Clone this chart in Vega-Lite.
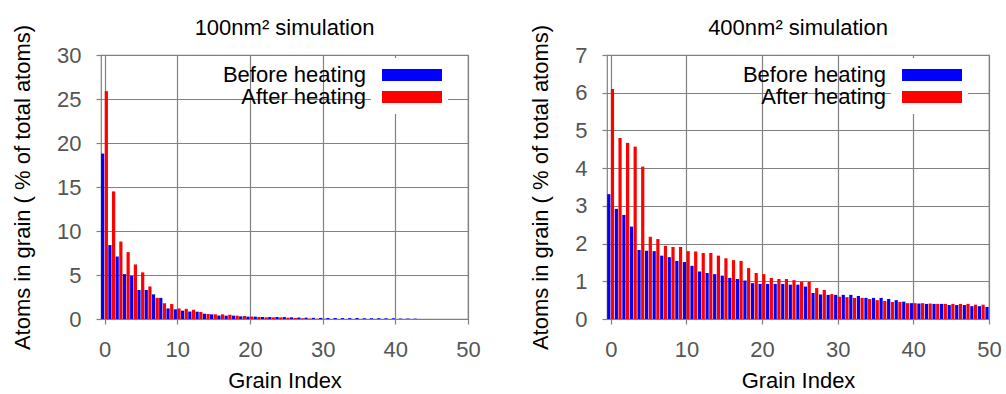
{
  "$schema": "https://vega.github.io/schema/vega-lite/v6.json",
  "padding": {"left": 10, "top": 16, "right": 5, "bottom": 0},
  "config": {
    "font": "Liberation Sans",
    "view": {"stroke": "#808080", "strokeWidth": 1.2},
    "axis": {
      "labelFont": "Liberation Sans", "labelFontSize": 22, "labelColor": "#555555",
      "titleFont": "Liberation Sans", "titleFontSize": 22, "titleFontWeight": "normal", "titleColor": "#000000",
      "gridColor": "#808080", "gridOpacity": 1, "gridWidth": 1.2,
      "domain": false, "tickColor": "#808080", "tickSize": 5, "tickWidth": 1.2
    },
    "axisX": {"labelPadding": 15, "titlePadding": 10, "labelFlush": false},
    "axisY": {"labelPadding": 15, "titlePadding": 22},
    "title": {"font": "Liberation Sans", "fontSize": 22, "fontWeight": "normal", "color": "#000000", "baseline": "alphabetic", "offset": -16},
    "legend": {
      "orient": "none", "title": null,
      "symbolType": "M-5,-1L5,-1L5,1L-5,1Z", "symbolSize": 144, "symbolOffset": 24, "symbolStrokeWidth": 0, "symbolOpacity": 1,
      "labelFont": "Liberation Sans", "labelFontSize": 22, "labelColor": "#000000",
      "labelAlign": "right", "labelOffset": -57, "labelLimit": 300,
      "rowPadding": -2, "padding": 6, "fillColor": "#ffffff", "strokeColor": null
    }
  },
  "datasets": {
    "p100": [
      {"grain": 0, "state": "Before heating", "pct": 18.8}, {"grain": 0, "state": "After heating", "pct": 25.9},
      {"grain": 1, "state": "Before heating", "pct": 8.4}, {"grain": 1, "state": "After heating", "pct": 14.5},
      {"grain": 2, "state": "Before heating", "pct": 7.1}, {"grain": 2, "state": "After heating", "pct": 8.8},
      {"grain": 3, "state": "Before heating", "pct": 5.1}, {"grain": 3, "state": "After heating", "pct": 7.6},
      {"grain": 4, "state": "Before heating", "pct": 4.9}, {"grain": 4, "state": "After heating", "pct": 6.2},
      {"grain": 5, "state": "Before heating", "pct": 3.3}, {"grain": 5, "state": "After heating", "pct": 5.3},
      {"grain": 6, "state": "Before heating", "pct": 3.3}, {"grain": 6, "state": "After heating", "pct": 3.7},
      {"grain": 7, "state": "Before heating", "pct": 2.8}, {"grain": 7, "state": "After heating", "pct": 2.4},
      {"grain": 8, "state": "Before heating", "pct": 2.4}, {"grain": 8, "state": "After heating", "pct": 1.8},
      {"grain": 9, "state": "Before heating", "pct": 1.2}, {"grain": 9, "state": "After heating", "pct": 1.7},
      {"grain": 10, "state": "Before heating", "pct": 1.1}, {"grain": 10, "state": "After heating", "pct": 1.2},
      {"grain": 11, "state": "Before heating", "pct": 0.95}, {"grain": 11, "state": "After heating", "pct": 1.15},
      {"grain": 12, "state": "Before heating", "pct": 0.85}, {"grain": 12, "state": "After heating", "pct": 1.05},
      {"grain": 13, "state": "Before heating", "pct": 0.83}, {"grain": 13, "state": "After heating", "pct": 0.8},
      {"grain": 14, "state": "Before heating", "pct": 0.6}, {"grain": 14, "state": "After heating", "pct": 0.57},
      {"grain": 15, "state": "Before heating", "pct": 0.53}, {"grain": 15, "state": "After heating", "pct": 0.53},
      {"grain": 16, "state": "Before heating", "pct": 0.4}, {"grain": 16, "state": "After heating", "pct": 0.53},
      {"grain": 17, "state": "Before heating", "pct": 0.38}, {"grain": 17, "state": "After heating", "pct": 0.49},
      {"grain": 18, "state": "Before heating", "pct": 0.38}, {"grain": 18, "state": "After heating", "pct": 0.38},
      {"grain": 19, "state": "Before heating", "pct": 0.3}, {"grain": 19, "state": "After heating", "pct": 0.34},
      {"grain": 20, "state": "Before heating", "pct": 0.27}, {"grain": 20, "state": "After heating", "pct": 0.27},
      {"grain": 21, "state": "Before heating", "pct": 0.27}, {"grain": 21, "state": "After heating", "pct": 0.23},
      {"grain": 22, "state": "Before heating", "pct": 0.23}, {"grain": 22, "state": "After heating", "pct": 0.19},
      {"grain": 23, "state": "Before heating", "pct": 0.23}, {"grain": 23, "state": "After heating", "pct": 0.19},
      {"grain": 24, "state": "Before heating", "pct": 0.23}, {"grain": 24, "state": "After heating", "pct": 0.19},
      {"grain": 25, "state": "Before heating", "pct": 0.22}, {"grain": 25, "state": "After heating", "pct": 0.15},
      {"grain": 26, "state": "Before heating", "pct": 0.19}, {"grain": 26, "state": "After heating", "pct": 0.12},
      {"grain": 27, "state": "Before heating", "pct": 0.17}, {"grain": 27, "state": "After heating", "pct": 0.08},
      {"grain": 28, "state": "Before heating", "pct": 0.15}, {"grain": 28, "state": "After heating", "pct": 0.05},
      {"grain": 29, "state": "Before heating", "pct": 0.13}, {"grain": 29, "state": "After heating", "pct": 0.03},
      {"grain": 30, "state": "Before heating", "pct": 0.12}, {"grain": 30, "state": "After heating", "pct": 0.02},
      {"grain": 31, "state": "Before heating", "pct": 0.11},
      {"grain": 32, "state": "Before heating", "pct": 0.11},
      {"grain": 33, "state": "Before heating", "pct": 0.1},
      {"grain": 34, "state": "Before heating", "pct": 0.1},
      {"grain": 35, "state": "Before heating", "pct": 0.1},
      {"grain": 36, "state": "Before heating", "pct": 0.09},
      {"grain": 37, "state": "Before heating", "pct": 0.09},
      {"grain": 38, "state": "Before heating", "pct": 0.09},
      {"grain": 39, "state": "Before heating", "pct": 0.08},
      {"grain": 40, "state": "Before heating", "pct": 0.08},
      {"grain": 41, "state": "Before heating", "pct": 0.05},
      {"grain": 42, "state": "Before heating", "pct": 0.05},
      {"grain": 43, "state": "Before heating", "pct": 0.04}
    ],
    "p400": [
      {"grain": 0, "state": "Before heating", "pct": 3.31}, {"grain": 0, "state": "After heating", "pct": 6.1},
      {"grain": 1, "state": "Before heating", "pct": 2.92}, {"grain": 1, "state": "After heating", "pct": 4.8},
      {"grain": 2, "state": "Before heating", "pct": 2.76}, {"grain": 2, "state": "After heating", "pct": 4.67},
      {"grain": 3, "state": "Before heating", "pct": 2.45}, {"grain": 3, "state": "After heating", "pct": 4.57},
      {"grain": 4, "state": "Before heating", "pct": 1.83}, {"grain": 4, "state": "After heating", "pct": 4.04},
      {"grain": 5, "state": "Before heating", "pct": 1.81}, {"grain": 5, "state": "After heating", "pct": 2.18},
      {"grain": 6, "state": "Before heating", "pct": 1.8}, {"grain": 6, "state": "After heating", "pct": 2.12},
      {"grain": 7, "state": "Before heating", "pct": 1.68}, {"grain": 7, "state": "After heating", "pct": 1.94},
      {"grain": 8, "state": "Before heating", "pct": 1.64}, {"grain": 8, "state": "After heating", "pct": 1.91},
      {"grain": 9, "state": "Before heating", "pct": 1.54}, {"grain": 9, "state": "After heating", "pct": 1.91},
      {"grain": 10, "state": "Before heating", "pct": 1.51}, {"grain": 10, "state": "After heating", "pct": 1.8},
      {"grain": 11, "state": "Before heating", "pct": 1.41}, {"grain": 11, "state": "After heating", "pct": 1.79},
      {"grain": 12, "state": "Before heating", "pct": 1.26}, {"grain": 12, "state": "After heating", "pct": 1.75},
      {"grain": 13, "state": "Before heating", "pct": 1.22}, {"grain": 13, "state": "After heating", "pct": 1.75},
      {"grain": 14, "state": "Before heating", "pct": 1.19}, {"grain": 14, "state": "After heating", "pct": 1.68},
      {"grain": 15, "state": "Before heating", "pct": 1.15}, {"grain": 15, "state": "After heating", "pct": 1.61},
      {"grain": 16, "state": "Before heating", "pct": 1.09}, {"grain": 16, "state": "After heating", "pct": 1.56},
      {"grain": 17, "state": "Before heating", "pct": 1.06}, {"grain": 17, "state": "After heating", "pct": 1.54},
      {"grain": 18, "state": "Before heating", "pct": 1.02}, {"grain": 18, "state": "After heating", "pct": 1.35},
      {"grain": 19, "state": "Before heating", "pct": 0.95}, {"grain": 19, "state": "After heating", "pct": 1.22},
      {"grain": 20, "state": "Before heating", "pct": 0.93}, {"grain": 20, "state": "After heating", "pct": 1.19},
      {"grain": 21, "state": "Before heating", "pct": 0.93}, {"grain": 21, "state": "After heating", "pct": 1.09},
      {"grain": 22, "state": "Before heating", "pct": 0.93}, {"grain": 22, "state": "After heating", "pct": 1.06},
      {"grain": 23, "state": "Before heating", "pct": 0.93}, {"grain": 23, "state": "After heating", "pct": 1.06},
      {"grain": 24, "state": "Before heating", "pct": 0.91}, {"grain": 24, "state": "After heating", "pct": 1.03},
      {"grain": 25, "state": "Before heating", "pct": 0.91}, {"grain": 25, "state": "After heating", "pct": 0.99},
      {"grain": 26, "state": "Before heating", "pct": 0.86}, {"grain": 26, "state": "After heating", "pct": 0.99},
      {"grain": 27, "state": "Before heating", "pct": 0.69}, {"grain": 27, "state": "After heating", "pct": 0.82},
      {"grain": 28, "state": "Before heating", "pct": 0.65}, {"grain": 28, "state": "After heating", "pct": 0.77},
      {"grain": 29, "state": "Before heating", "pct": 0.64}, {"grain": 29, "state": "After heating", "pct": 0.66},
      {"grain": 30, "state": "Before heating", "pct": 0.64}, {"grain": 30, "state": "After heating", "pct": 0.59},
      {"grain": 31, "state": "Before heating", "pct": 0.64}, {"grain": 31, "state": "After heating", "pct": 0.58},
      {"grain": 32, "state": "Before heating", "pct": 0.64}, {"grain": 32, "state": "After heating", "pct": 0.56},
      {"grain": 33, "state": "Before heating", "pct": 0.61}, {"grain": 33, "state": "After heating", "pct": 0.56},
      {"grain": 34, "state": "Before heating", "pct": 0.56}, {"grain": 34, "state": "After heating", "pct": 0.53},
      {"grain": 35, "state": "Before heating", "pct": 0.56}, {"grain": 35, "state": "After heating", "pct": 0.5},
      {"grain": 36, "state": "Before heating", "pct": 0.56}, {"grain": 36, "state": "After heating", "pct": 0.48},
      {"grain": 37, "state": "Before heating", "pct": 0.53}, {"grain": 37, "state": "After heating", "pct": 0.45},
      {"grain": 38, "state": "Before heating", "pct": 0.5}, {"grain": 38, "state": "After heating", "pct": 0.45},
      {"grain": 39, "state": "Before heating", "pct": 0.46}, {"grain": 39, "state": "After heating", "pct": 0.42},
      {"grain": 40, "state": "Before heating", "pct": 0.42}, {"grain": 40, "state": "After heating", "pct": 0.42},
      {"grain": 41, "state": "Before heating", "pct": 0.41}, {"grain": 41, "state": "After heating", "pct": 0.42},
      {"grain": 42, "state": "Before heating", "pct": 0.4}, {"grain": 42, "state": "After heating", "pct": 0.41},
      {"grain": 43, "state": "Before heating", "pct": 0.4}, {"grain": 43, "state": "After heating", "pct": 0.4},
      {"grain": 44, "state": "Before heating", "pct": 0.4}, {"grain": 44, "state": "After heating", "pct": 0.4},
      {"grain": 45, "state": "Before heating", "pct": 0.37}, {"grain": 45, "state": "After heating", "pct": 0.4},
      {"grain": 46, "state": "Before heating", "pct": 0.37}, {"grain": 46, "state": "After heating", "pct": 0.4},
      {"grain": 47, "state": "Before heating", "pct": 0.37}, {"grain": 47, "state": "After heating", "pct": 0.4},
      {"grain": 48, "state": "Before heating", "pct": 0.34}, {"grain": 48, "state": "After heating", "pct": 0.38},
      {"grain": 49, "state": "Before heating", "pct": 0.34}, {"grain": 49, "state": "After heating", "pct": 0.38},
      {"grain": 50, "state": "Before heating", "pct": 0.32}
    ]
  },
  "hconcat": [
    {
      "width": 367, "height": 264,
      "title": {"text": "100nm² simulation"},
      "data": {"name": "p100"},
      "encoding": {
        "x": {"field": "grain", "type": "quantitative", "title": "Grain Index",
              "scale": {"domain": [-0.5, 50], "nice": false, "zero": false, "padding": 0},
              "axis": {"values": [0, 10, 20, 30, 40, 50], "grid": true}},
        "y": {"field": "pct", "type": "quantitative", "title": "Atoms in grain ( % of total atoms)",
              "scale": {"domain": [0, 30], "nice": false},
              "axis": {"values": [0, 5, 10, 15, 20, 25, 30]}},
        "color": {"field": "state", "type": "nominal",
                  "scale": {"domain": ["Before heating", "After heating"], "range": ["#0000ff", "#ff0000"]},
                  "legend": {"legendX": 270, "legendY": 3}}
      },
      "layer": [
        {"transform": [{"filter": "datum.state === 'Before heating'"}],
         "mark": {"type": "bar", "width": 3.2, "xOffset": -2, "clip": true}},
        {"transform": [{"filter": "datum.state === 'After heating'"}],
         "mark": {"type": "bar", "width": 3.2, "xOffset": 1.7, "clip": true}}
      ]
    },
    {
      "width": 382, "height": 264,
      "title": {"text": "400nm² simulation"},
      "data": {"name": "p400"},
      "encoding": {
        "x": {"field": "grain", "type": "quantitative", "title": "Grain Index",
              "scale": {"domain": [-0.5, 50], "nice": false, "zero": false, "padding": 0},
              "axis": {"values": [0, 10, 20, 30, 40, 50], "grid": true}},
        "y": {"field": "pct", "type": "quantitative", "title": "Atoms in grain ( % of total atoms)",
              "scale": {"domain": [0, 7], "nice": false},
              "axis": {"values": [0, 1, 2, 3, 4, 5, 6, 7]}},
        "color": {"field": "state", "type": "nominal",
                  "scale": {"domain": ["Before heating", "After heating"], "range": ["#0000ff", "#ff0000"]},
                  "legend": {"legendX": 284, "legendY": 3}}
      },
      "layer": [
        {"transform": [{"filter": "datum.state === 'Before heating'"}],
         "mark": {"type": "bar", "width": 3.2, "xOffset": -2, "clip": true}},
        {"transform": [{"filter": "datum.state === 'After heating'"}],
         "mark": {"type": "bar", "width": 3.2, "xOffset": 1.7, "clip": true}}
      ]
    }
  ],
  "spacing": 48,
  "resolve": {"scale": {"x": "independent", "y": "independent", "color": "independent"}, "legend": {"color": "independent"}}
}
